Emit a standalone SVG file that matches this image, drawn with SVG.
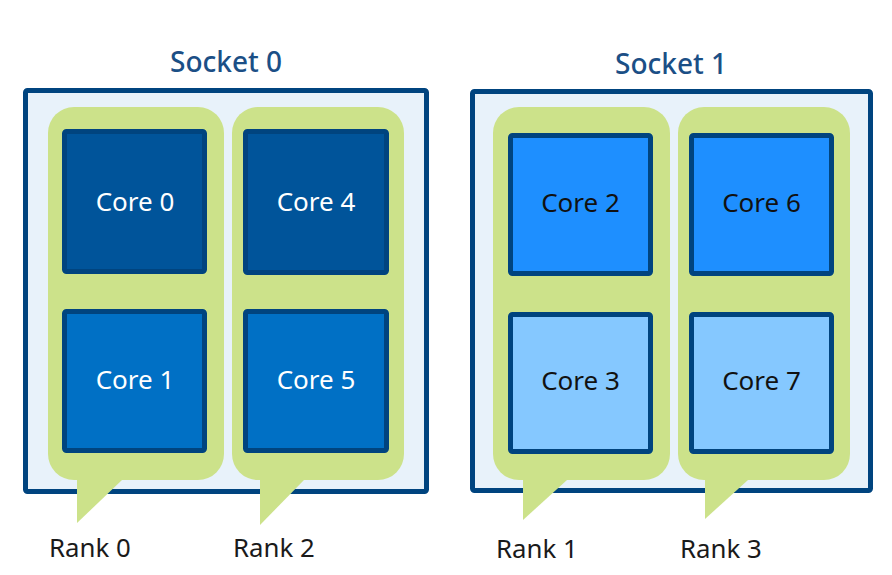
<svg xmlns="http://www.w3.org/2000/svg" width="892" height="575" viewBox="0 0 892 575">
<style>
text{font-family:"Noto Sans","Open Sans","DejaVu Sans",sans-serif}
.sock{fill:#e8f2fa;stroke:#00447f;stroke-width:5}
.title{font-size:28px;fill:#1b4f86;text-anchor:middle;font-weight:500}
.rank{fill:#cce28a}
.rlabel{font-size:25.8px;fill:#1a1a1a}
.core{stroke:#00447f;stroke-width:5}
.c0{fill:#00549a}.c1{fill:#0070c5}.c2{fill:#1e8fff}.c3{fill:#85c8ff}
.lw{font-size:26px;fill:#ffffff;text-anchor:middle}
.lb{font-size:26px;fill:#111111;text-anchor:middle}
</style>
<g id="socket0">
<rect class="sock" x="25.5" y="90.5" width="401" height="401" rx="2"/>
<text class="title" x="226" y="72">Socket 0</text>
</g>
<g id="socket1">
<rect class="sock" x="472.5" y="91.5" width="398" height="399" rx="2"/>
<text class="title" x="671" y="74">Socket 1</text>
</g>
<g id="rank0">
<rect class="rank" x="48" y="107" width="176" height="373" rx="26"/>
<polygon class="rank" points="77,470 77,523 122,480 122,470"/>
<text class="rlabel" x="49" y="557">Rank 0</text>
</g>
<g id="rank2">
<rect class="rank" x="232" y="107" width="172" height="373" rx="26"/>
<polygon class="rank" points="260,470 260,525 304,480 304,470"/>
<text class="rlabel" x="233" y="557">Rank 2</text>
</g>
<g id="rank1">
<rect class="rank" x="493" y="107" width="177" height="373" rx="26"/>
<polygon class="rank" points="523,470 523,520 567,480 567,470"/>
<text class="rlabel" x="496" y="558">Rank 1</text>
</g>
<g id="rank3">
<rect class="rank" x="678" y="107" width="172" height="373" rx="26"/>
<polygon class="rank" points="705,470 705,519 748,480 748,470"/>
<text class="rlabel" x="680" y="558">Rank 3</text>
</g>
<g id="core0"><rect class="core c0" x="64.5" y="131.5" width="140" height="140" rx="2"/><text class="lw" x="135" y="211">Core 0</text></g>
<g id="core1"><rect class="core c1" x="64.5" y="311.5" width="140" height="139" rx="2"/><text class="lw" x="135" y="389">Core 1</text></g>
<g id="core4"><rect class="core c0" x="245.5" y="131.5" width="141" height="141" rx="2"/><text class="lw" x="316" y="211">Core 4</text></g>
<g id="core5"><rect class="core c1" x="245.5" y="311.5" width="141" height="139" rx="2"/><text class="lw" x="316" y="389">Core 5</text></g>
<g id="core2"><rect class="core c2" x="510.5" y="135.5" width="140" height="138" rx="2"/><text class="lb" x="580.5" y="212">Core 2</text></g>
<g id="core3"><rect class="core c3" x="510.5" y="314.5" width="140" height="137" rx="2"/><text class="lb" x="580.5" y="390">Core 3</text></g>
<g id="core6"><rect class="core c2" x="691.5" y="135.5" width="140" height="138" rx="2"/><text class="lb" x="761.5" y="212">Core 6</text></g>
<g id="core7"><rect class="core c3" x="691.5" y="314.5" width="140" height="137" rx="2"/><text class="lb" x="761.5" y="390">Core 7</text></g>
</svg>
